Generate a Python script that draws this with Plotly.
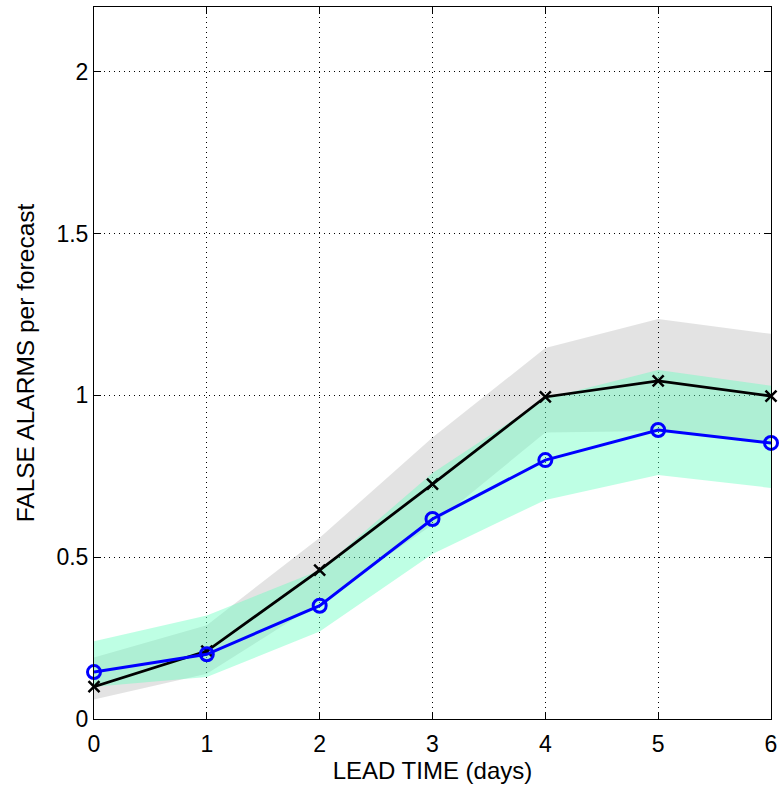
import plotly.graph_objects as go

lead_days = [0, 1, 2, 3, 4, 5, 6]
black_vals = [0.10, 0.21, 0.46, 0.726, 0.995, 1.045, 0.998]
blue_vals = [0.145, 0.20, 0.35, 0.618, 0.80, 0.893, 0.853]
gray_upper = [0.19, 0.29, 0.56, 0.87, 1.146, 1.236, 1.19]
gray_lower = [0.06, 0.14, 0.36, 0.60, 0.885, 0.89, 0.85]
green_upper = [0.24, 0.32, 0.46, 0.76, 0.99, 1.078, 1.03]
green_lower = [0.10, 0.13, 0.27, 0.51, 0.677, 0.754, 0.714]
y_ticks = [0, 0.5, 1, 1.5, 2]
y_tick_text = ["0", "0.5", "1", "1.5", "2"]

FONT = "Liberation Sans, Arial, Helvetica, sans-serif"

fig = go.Figure()

# gray band (black series)
fig.add_trace(go.Scatter(x=lead_days, y=gray_lower, mode="lines", line=dict(width=0),
                         showlegend=False, hoverinfo="skip"))
fig.add_trace(go.Scatter(x=lead_days, y=gray_upper, mode="lines", line=dict(width=0),
                         fill="tonexty", fillcolor="rgba(0,0,0,0.11)",
                         showlegend=False, hoverinfo="skip"))
# green band (blue series)
fig.add_trace(go.Scatter(x=lead_days, y=green_lower, mode="lines", line=dict(width=0),
                         showlegend=False, hoverinfo="skip"))
fig.add_trace(go.Scatter(x=lead_days, y=green_upper, mode="lines", line=dict(width=0),
                         fill="tonexty", fillcolor="rgba(100,255,190,0.42)",
                         showlegend=False, hoverinfo="skip"))

fig.add_trace(go.Scatter(x=lead_days, y=black_vals, mode="lines+markers",
                         line=dict(color="black", width=2.8),
                         marker=dict(symbol="x-thin-open", size=11,
                                     line=dict(color="black", width=2.5)),
                         showlegend=False, cliponaxis=False))
fig.add_trace(go.Scatter(x=lead_days, y=blue_vals, mode="lines+markers",
                         line=dict(color="#0000ff", width=3),
                         marker=dict(symbol="circle-open", size=13,
                                     line=dict(color="#0000ff", width=3)),
                         showlegend=False, cliponaxis=False))

axis_common = dict(
    showline=True, linecolor="black", linewidth=1, mirror="ticks",
    ticks="inside", ticklen=7, tickcolor="black", tickwidth=1,
    showgrid=True, gridcolor="black", gridwidth=1, griddash="1px,4px",
    zeroline=False, automargin=False,
    tickfont=dict(family=FONT, size=23, color="black"),
)

fig.update_xaxes(range=[0, 6], tickvals=lead_days, ticktext=[str(v) for v in lead_days],
                 ticklabelstandoff=4,
                 title=dict(text="LEAD TIME (days)", font=dict(family=FONT, size=24, color="black"),
                            standoff=6),
                 **axis_common)
fig.update_yaxes(range=[0, 2.2], tickvals=y_ticks, ticktext=y_tick_text,
                 title=dict(text="FALSE ALARMS per forecast", font=dict(family=FONT, size=24.5, color="black"),
                            standoff=14),
                 **axis_common)

fig.update_layout(
    width=779, height=790,
    margin=dict(l=94, r=8, t=7, b=71, pad=0),
    plot_bgcolor="white", paper_bgcolor="white",
    font=dict(family=FONT, color="black"),
)

fig.write_html("out.html")
